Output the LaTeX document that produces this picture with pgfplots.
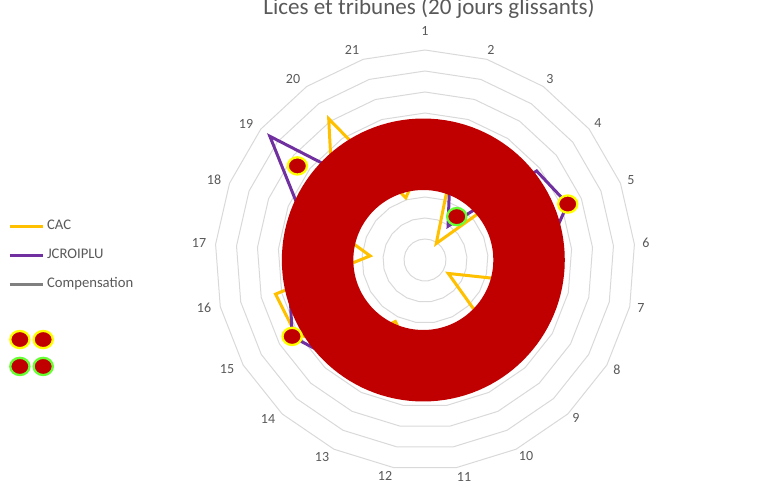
\documentclass[border=0pt]{standalone}
\usepackage{pgfplots}
\pgfplotsset{compat=1.18}
\usepackage{pgfplotstable}
\usepackage{fontspec}
\setmainfont{Carlito}

\definecolor{cac}{HTML}{FFC000}
\definecolor{jcr}{HTML}{7030A0}
\definecolor{comp}{HTML}{808080}
\definecolor{rouge}{HTML}{C00000}
\definecolor{jaune}{HTML}{FFFF00}
\definecolor{vert}{HTML}{66FF33}
\definecolor{grille}{HTML}{D9D9D9}
\definecolor{texte}{HTML}{595959}

% one row per spoke (1..21), row 22 closes the polygon
\pgfplotstableread{
k   cac   jcr   comp
1   5.0   5.0   5.0
2   3.7   4.0   4.8
3   0.95  1.95  4.6
4   6.2   6.8   5.0
5   5.5   7.3   5.2
6   5.0   5.8   5.0
7   4.43  5.0   4.8
8   1.28  5.0   4.7
9   4.15  5.0   4.9
10  5.0   5.0   5.0
11  5.0   5.0   5.1
12  4.5   5.0   5.0
13  3.25  5.0   4.8
14  5.5   6.4   5.0
15  7.1   7.3   5.2
16  7.3   6.6   5.1
17  2.62  5.0   4.9
18  5.45  6.4   5.0
19  5.65  9.45  5.2
20  8.14  3.9   5.0
21  3.1   5.0   4.9
22  5.0   5.0   5.0
}\radar

% markers: angle (deg, clockwise from spoke 1) and radius
\pgfplotstableread{
ang    v
68.6   7.3
240.1  7.3
306.4  7.55
}\jaunes

\pgfplotstableread{
ang    v
36.2   2.56
}\verts

\begin{document}
\begin{tikzpicture}[x=0.75pt, y=0.75pt]
\useasboundingbox (0,0) rectangle (761,497);

\begin{axis}[
  at={(318.75pt,177.75pt)}, anchor=center,
  width=315pt, height=315pt, scale only axis,
  xmin=-10, xmax=10, ymin=-10, ymax=10,
  hide axis, clip=false,
  legend cell align=left,
  legend style={at={(-0.4929,0.5976)}, anchor=north west, draw=none, fill=none,
    inner sep=0pt, font=\fontsize{11}{13}\selectfont, text=texte,
    row sep=11.25pt, column sep=2.1pt,
    nodes={inner sep=0pt, text height=8pt, text depth=2.5pt}},
  legend image code/.code={\draw[#1] (0pt,0pt) -- (24.75pt,0pt);},
]
% polygon grid
\pgfplotsinvokeforeach{1,...,10}{
  \draw[grille, line width=0.75pt] (axis cs:0,#1)
    \foreach \i in {1,...,20}{ -- (axis cs:{#1*sin(\i*360/21)},{#1*cos(\i*360/21)})} -- cycle;
}

\addplot[cac, line width=2.25pt, mark=none]
  table[x expr={\thisrow{cac}*sin((\thisrow{k}-1)*360/21)},
        y expr={\thisrow{cac}*cos((\thisrow{k}-1)*360/21)}] {\radar};
\addlegendentry{CAC}
\addplot[jcr, line width=2.25pt, mark=none]
  table[x expr={\thisrow{jcr}*sin((\thisrow{k}-1)*360/21)},
        y expr={\thisrow{jcr}*cos((\thisrow{k}-1)*360/21)}] {\radar};
\addlegendentry{JCROIPLU}
\addplot[comp, line width=2.25pt, mark=none]
  table[x expr={\thisrow{comp}*sin((\thisrow{k}-1)*360/21)},
        y expr={\thisrow{comp}*cos((\thisrow{k}-1)*360/21)}] {\radar};
\addlegendentry{Compensation}

% doughnut
\addplot[forget plot, only marks, mark=o, mark size=79.3pt,
  mark options={draw=rouge, line width=53.6pt}] coordinates {(-0.08,0)};

\addplot[forget plot, only marks, mark=*, mark size=6.8pt,
  mark options={draw=jaune, fill=rouge, line width=1.7pt, xscale=1.06, yscale=0.95}]
  table[x expr={\thisrow{v}*sin(\thisrow{ang})},
        y expr={\thisrow{v}*cos(\thisrow{ang})}] {\jaunes};
\addplot[forget plot, only marks, mark=*, mark size=6.8pt,
  mark options={draw=vert, fill=rouge, line width=1.7pt, xscale=1.06, yscale=0.95}]
  table[x expr={\thisrow{v}*sin(\thisrow{ang})},
        y expr={\thisrow{v}*cos(\thisrow{ang})}] {\verts};
\end{axis}

% marker legend
\begin{axis}[
  at={(7.5pt,124.75pt)}, anchor=north west,
  width=10pt, height=10pt, scale only axis,
  xmin=0, xmax=1, ymin=0, ymax=1, hide axis,
  legend columns=2,
  legend style={at={(0,1)}, anchor=north west, draw=none, fill=none,
    inner sep=0pt, column sep=1.05pt, row sep=7.25pt, nodes={inner sep=0pt}},
  legend image code/.code={\draw[#1] plot coordinates {(0pt,0pt)};},
]
\addlegendimage{only marks, mark=*, mark size=6.8pt, mark options={draw=jaune, fill=rouge, line width=1.7pt, xscale=1.06, yscale=0.95}}
\addlegendentry{}
\addlegendimage{only marks, mark=*, mark size=6.8pt, mark options={draw=jaune, fill=rouge, line width=1.7pt, xscale=1.06, yscale=0.95}}
\addlegendentry{}
\addlegendimage{only marks, mark=*, mark size=6.8pt, mark options={draw=vert, fill=rouge, line width=1.7pt, xscale=1.06, yscale=0.95}}
\addlegendentry{}
\addlegendimage{only marks, mark=*, mark size=6.8pt, mark options={draw=vert, fill=rouge, line width=1.7pt, xscale=1.06, yscale=0.95}}
\addlegendentry{}
\end{axis}

% spoke labels (centres in px, measured from the top-left corner)
\foreach \k/\px/\py in {1/425/31, 2/491/50, 3/550/79, 4/598/123, 5/631/180,
    6/646/243, 7/641/308, 8/617/370, 9/576/418, 10/526/456, 11/464/477,
    12/385/476, 13/322/457, 14/268/419, 15/227/369, 16/204/308, 17/199/243,
    18/214/180, 19/246/124, 20/293/79, 21/352/50}{
  \node[anchor=center, inner sep=0pt, text=texte, font=\fontsize{10.5}{12}\selectfont]
    at (\px,497-\py) {\k};
}

% title
\node[anchor=base, text=texte, font=\fontsize{17.3}{20}\selectfont]
  at (429,482) {Lices et tribunes (20 jours glissants)};
\end{tikzpicture}
\end{document}
